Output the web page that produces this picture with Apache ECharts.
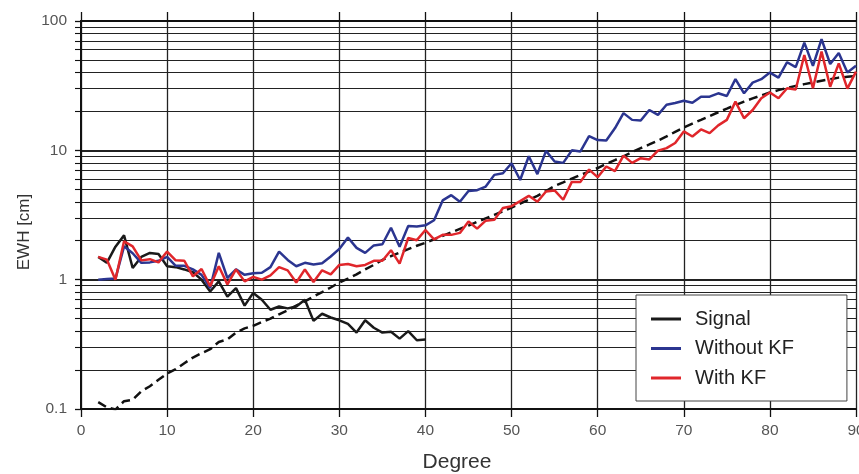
<!DOCTYPE html>
<html>
<head>
<meta charset="utf-8">
<script src="https://cdn.jsdelivr.net/npm/echarts@6/dist/echarts.min.js"></script>
<style>
html,body{margin:0;padding:0;background:#fff;}
#c{width:859px;height:474px;}
</style>
</head>
<body>
<div id="c"></div>
<script>
// ---- data ----
const xTicks = [0, 10, 20, 30, 40, 50, 60, 70, 80, 90];
const yTicks = [0.1, 1, 10, 100];
const signalDegrees = [2,3,4,5,6,7,8,9,10,11,12,13,14,15,16,17,18,19,20,21,22,23,24,25,26,27,28,29,30,31,32,33,34,35,36,37,38,39,40];
const signal = [1.5,1.35,1.8,2.2,1.23,1.5,1.61,1.58,1.27,1.25,1.2,1.14,1.0,0.81,0.97,0.74,0.86,0.63,0.79,0.70,0.585,0.62,0.60,0.62,0.70,0.48,0.545,0.51,0.485,0.455,0.39,0.485,0.425,0.39,0.395,0.35,0.40,0.34,0.345];
const degrees = [];
for (let d = 2; d <= 90; d++) degrees.push(d);
const signalModel = [0.113,0.103,0.099,0.115,0.118,0.137,0.15,0.168,0.188,0.203,0.226,0.25,0.27,0.29,0.33,0.345,0.39,0.42,0.44,0.47,0.5,0.54,0.58,0.63,0.68,0.74,0.8,0.87,0.95,1.02,1.1,1.2,1.3,1.42,1.52,1.62,1.72,1.83,1.93,2.05,2.18,2.32,2.47,2.62,2.8,2.98,3.17,3.38,3.6,3.88,4.15,4.45,4.85,5.3,5.65,6.05,6.45,6.85,7.3,7.85,8.4,9.0,9.7,10.4,11.1,11.9,12.8,13.9,15.0,16.1,17.2,18.4,19.7,21.0,22.4,23.8,25.2,26.6,28.0,29.2,30.4,31.5,32.5,33.5,34.5,35.5,36.5,37,37.5];
const withoutKF = [1.0,1.01,1.02,1.81,1.6,1.35,1.36,1.4,1.5,1.28,1.28,1.2,1.09,0.86,1.61,1.03,1.2,1.09,1.12,1.13,1.25,1.65,1.42,1.27,1.35,1.31,1.34,1.51,1.73,2.12,1.76,1.61,1.84,1.88,2.52,1.8,2.6,2.58,2.63,2.88,4.1,4.5,4.0,4.85,4.92,5.25,6.46,6.65,7.95,5.9,9.0,6.55,9.9,8.2,8.0,10.0,9.8,12.9,12.0,11.9,14.8,19.4,17.2,17.0,20.5,18.8,22.5,23.2,24.2,23.3,26.0,26.0,27.6,26.3,35.5,27.6,33.4,35.5,39.9,36.5,48,44,68,45,72.5,46.5,56.5,40,45];
const withKF = [1.5,1.43,1.0,1.98,1.81,1.41,1.44,1.36,1.65,1.41,1.4,1.06,1.21,0.89,1.27,0.92,1.2,0.97,1.05,1.0,1.08,1.25,1.18,0.95,1.2,0.96,1.18,1.1,1.3,1.32,1.27,1.3,1.4,1.4,1.69,1.33,2.1,2.02,2.42,2.05,2.22,2.22,2.3,2.82,2.48,2.86,2.9,3.58,3.7,4.05,4.45,4.0,4.8,4.9,4.15,5.7,5.7,7.1,6.2,7.5,6.9,9.1,8.0,8.7,8.5,9.95,10.4,11.4,14.0,12.8,14.5,13.6,15.6,17.2,23.8,17.7,20.5,25.3,28,25.3,30.2,29.5,54.6,30.2,58,31,47,30,40.6];
const legendNames = ['Signal', 'Without KF', 'With KF'];

function pairs(xs, ys) { return xs.map((x, i) => [x, ys[i]]); }

const chart = echarts.init(document.getElementById('c'), null, {renderer: 'canvas'});
const FONT = 'Liberation Sans, Arial, sans-serif';
const gridColor = '#222';

chart.setOption({
  animation: false,
  backgroundColor: '#fff',
  grid: {left: 81, right: 3, top: 21, bottom: 65, outerBoundsMode: 'none'},
  xAxis: [{
    type: 'value', min: 0, max: 90, interval: 10,
    axisLine: {show: true, onZero: false, lineStyle: {color: '#111', width: 2}},
    axisTick: {show: true, inside: false, length: 8, lineStyle: {color: '#111', width: 1.3}},
    axisLabel: {fontSize: 15.5, color: '#555', fontFamily: FONT, margin: 14,
      formatter: v => xTicks.includes(v) ? String(v) : ''},
    splitLine: {show: true, lineStyle: {color: gridColor, width: 1.3}}
  }, {
    type: 'value', min: 0, max: 90, interval: 10, position: 'top',
    axisLine: {show: true, onZero: false, lineStyle: {color: '#111', width: 2}},
    axisTick: {show: true, inside: false, length: 9, lineStyle: {color: '#111', width: 1.3}},
    axisLabel: {show: false},
    splitLine: {show: false}
  }],
  yAxis: {
    type: 'log', logBase: 10, min: 0.1, max: 100,
    axisLine: {show: true, lineStyle: {color: '#111', width: 2}},
    axisTick: {show: true, inside: false, length: 6, lineStyle: {color: '#111', width: 1.3}},
    minorTick: {show: true, splitNumber: 9, length: 6, lineStyle: {color: '#111', width: 1.1}},
    minorSplitLine: {show: true, lineStyle: {color: gridColor, width: 1.1}},
    axisLabel: {fontSize: 15.5, color: '#555', fontFamily: FONT, margin: 14,
      formatter: v => { const t = yTicks.find(k => Math.abs(k - v) / k < 1e-6); return t === undefined ? '' : String(t); }},
    splitLine: {show: true, lineStyle: {color: gridColor, width: 1.8}}
  },
  legend: {
    data: legendNames.map(n => ({name: n, icon: 'rect'})),
    orient: 'vertical', left: 636, top: 295,
    padding: [14, 53, 13, 15],
    itemWidth: 30, itemHeight: 3, itemGap: 9.5,
    backgroundColor: '#fff', borderColor: '#444', borderWidth: 1,
    textStyle: {fontSize: 20, color: '#222', fontFamily: FONT, padding: [0, 0, 0, 9], lineHeight: 20},
    z: 10
  },
  series: [
    {name: 'Signal model', type: 'line', data: pairs(degrees, signalModel), symbol: 'none', z: 3,
     lineStyle: {color: '#111', width: 2.5, type: [9, 5]}, itemStyle: {color: '#111'}},
    {name: 'Signal', type: 'line', data: pairs(signalDegrees, signal), symbol: 'none', z: 3,
     lineStyle: {color: '#1a1a1a', width: 2.5}, itemStyle: {color: '#1a1a1a'}},
    {name: 'Without KF', type: 'line', data: pairs(degrees, withoutKF), symbol: 'none', z: 3,
     lineStyle: {color: '#2B3590', width: 2.5}, itemStyle: {color: '#2B3590'}},
    {name: 'With KF', type: 'line', data: pairs(degrees, withKF), symbol: 'none', z: 4,
     lineStyle: {color: '#E0262B', width: 2.5}, itemStyle: {color: '#E0262B'}}
  ],
  graphic: [
    {type: 'text', x: 457, y: 462, style: {text: 'Degree', font: '21px ' + FONT, fill: '#333', textAlign: 'center', textVerticalAlign: 'middle'}},
    {type: 'text', x: 24, y: 232, rotation: Math.PI / 2, style: {text: 'EWH [cm]', font: '17px ' + FONT, fill: '#333', textAlign: 'center', textVerticalAlign: 'middle'}}
  ]
});
</script>
</body>
</html>
